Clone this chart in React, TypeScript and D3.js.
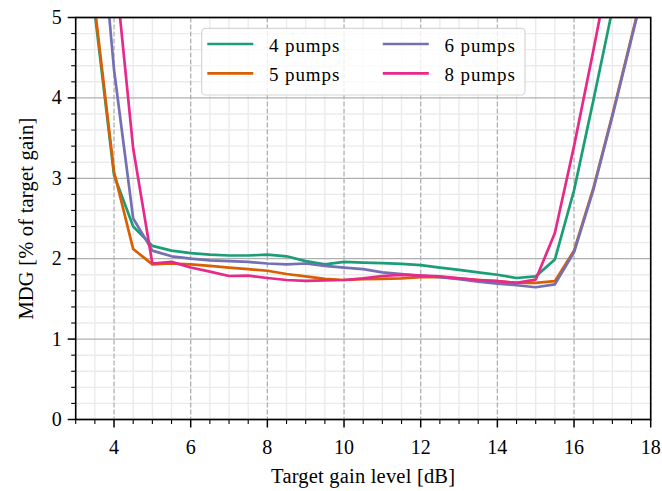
import React from "react";
import * as d3 from "d3";

const xValues = [3.5, 4, 4.5, 5, 5.5, 6, 6.5, 7, 7.5, 8, 8.5, 9, 9.5, 10, 10.5, 11, 11.5, 12, 12.5, 13, 13.5, 14, 14.5, 15, 15.5, 16, 16.5, 17, 17.5, 18];

const pumps4 = [5.05, 3.04, 2.40, 2.16, 2.10, 2.07, 2.05, 2.04, 2.04, 2.05, 2.03, 1.97, 1.93, 1.96, 1.95, 1.945, 1.935, 1.92, 1.89, 1.86, 1.83, 1.80, 1.76, 1.78, 1.99, 2.85, 3.96, 5.1, 6.2, 7.3];
const pumps5 = [5.12, 3.08, 2.12, 1.93, 1.94, 1.93, 1.91, 1.89, 1.87, 1.85, 1.81, 1.78, 1.75, 1.735, 1.745, 1.75, 1.755, 1.77, 1.77, 1.755, 1.735, 1.72, 1.70, 1.70, 1.72, 2.10, 2.87, 3.79, 4.76, 5.72];
const pumps6 = [7.0, 4.35, 2.5, 2.10, 2.03, 2.00, 1.98, 1.97, 1.96, 1.94, 1.93, 1.94, 1.91, 1.89, 1.87, 1.83, 1.81, 1.79, 1.77, 1.745, 1.715, 1.69, 1.67, 1.645, 1.68, 2.08, 2.85, 3.77, 4.74, 5.7];
const pumps8 = [9.0, 5.75, 3.37, 1.94, 1.96, 1.89, 1.84, 1.785, 1.79, 1.76, 1.735, 1.725, 1.73, 1.735, 1.755, 1.785, 1.80, 1.79, 1.78, 1.755, 1.735, 1.72, 1.70, 1.74, 2.32, 3.4, 4.58, 5.8, 7.0, 8.2];

const seriesNames = ["4 pumps", "5 pumps", "6 pumps", "8 pumps"];
const seriesValues = [pumps4, pumps5, pumps6, pumps8];
const seriesColors = ["#1b9e77", "#d95f02", "#7570b3", "#e7298a"];

const xMajorTicks = [4, 6, 8, 10, 12, 14, 16, 18];
const yMajorTicks = [0, 1, 2, 3, 4, 5];

const W = 662;
const H = 491;
const left = 75.7;
const right = 650.7;
const top = 17.5;
const bottom = 419.5;
const FONT = "'Liberation Serif', 'Times New Roman', serif";

export default function App() {
  const x = d3.scaleLinear().domain([3, 18]).range([left, right]);
  const y = d3.scaleLinear().domain([0, 5]).range([bottom, top]);

  const xMinor = d3.range(3, 18.001, 0.5).filter((v) => Math.abs(v % 2) > 1e-6);
  const yMinor = d3.range(0, 5.001, 0.2).filter((v) => Math.abs(v - Math.round(v)) > 1e-6);

  const line = d3
    .line<number>()
    .x((_, i) => x(xValues[i]))
    .y((d) => y(d));

  const legendRows = [
    { name: seriesNames[0], color: seriesColors[0], col: 0, row: 0 },
    { name: seriesNames[1], color: seriesColors[1], col: 0, row: 1 },
    { name: seriesNames[2], color: seriesColors[2], col: 1, row: 0 },
    { name: seriesNames[3], color: seriesColors[3], col: 1, row: 1 },
  ];
  const legX = 201.7;
  const legY = 28.3;
  const colOffsets = [0, 175.5];

  return (
    <svg
      width={W}
      height={H}
      style={{ position: "absolute", left: 0, top: 0, background: "#fff" }}
      fontFamily={FONT}
    >
      <defs>
        <clipPath id="plotClip">
          <rect x={left} y={top} width={right - left} height={bottom - top} />
        </clipPath>
      </defs>
      <rect x={0} y={0} width={W} height={H} fill="#fff" />
      {/* minor grid */}
      {xMinor.map((v) => (
        <line key={"xm" + v} x1={x(v)} x2={x(v)} y1={top} y2={bottom} stroke="#ebebeb" strokeWidth={1.4} />
      ))}
      {yMinor.map((v) => (
        <line key={"ym" + v} x1={left} x2={right} y1={y(v)} y2={y(v)} stroke="#ebebeb" strokeWidth={1.4} />
      ))}
      {/* major grid */}
      {xMajorTicks.map((v) => (
        <line
          key={"xg" + v}
          x1={x(v)}
          x2={x(v)}
          y1={top}
          y2={bottom}
          stroke="#b0b0b0"
          strokeWidth={1.3}
          strokeDasharray="5,2"
        />
      ))}
      {yMajorTicks.map((v) => (
        <line key={"yg" + v} x1={left} x2={right} y1={y(v)} y2={y(v)} stroke="#b0b0b0" strokeWidth={1.3} />
      ))}
      {/* series */}
      <g clipPath="url(#plotClip)">
        {seriesValues.map((vals, i) => (
          <path
            key={seriesNames[i]}
            d={line(vals) || ""}
            fill="none"
            stroke={seriesColors[i]}
            strokeWidth={2.7}
            strokeLinejoin="round"
          />
        ))}
      </g>
      {/* legend */}
      <rect
        x={legX}
        y={legY}
        width={323.3}
        height={66.7}
        rx={4}
        fill="#fff"
        fillOpacity={0.8}
        stroke="#d6d6d6"
        strokeWidth={1.2}
      />
      {legendRows.map((r) => {
        const lx = legX + 5.6 + colOffsets[r.col];
        const ly = 44 + r.row * 29.3;
        return (
          <g key={r.name}>
            <line x1={lx} x2={lx + 46} y1={ly} y2={ly} stroke={r.color} strokeWidth={2.7} />
            <text x={lx + 61.7} y={ly + 8} fontSize={19} letterSpacing={0.9} fill="#000">
              {r.name}
            </text>
          </g>
        );
      })}
      {/* spines */}
      <rect x={left} y={top} width={right - left} height={bottom - top} fill="none" stroke="#000" strokeWidth={1.6} />
      {/* x ticks */}
      {xMinor.map((v) => (
        <line key={"xt" + v} x1={x(v)} x2={x(v)} y1={bottom} y2={bottom + 4.5} stroke="#000" strokeWidth={1.1} />
      ))}
      {xMajorTicks.map((v) => (
        <g key={"xT" + v}>
          <line x1={x(v)} x2={x(v)} y1={bottom} y2={bottom + 8} stroke="#000" strokeWidth={1.5} />
          <text x={x(v)} y={bottom + 34} textAnchor="middle" fontSize={20} fill="#000">
            {v}
          </text>
        </g>
      ))}
      {/* y ticks */}
      {yMinor.map((v) => (
        <line key={"yt" + v} x1={left - 4.5} x2={left} y1={y(v)} y2={y(v)} stroke="#000" strokeWidth={1.1} />
      ))}
      {yMajorTicks.map((v) => (
        <g key={"yT" + v}>
          <line x1={left - 8} x2={left} y1={y(v)} y2={y(v)} stroke="#000" strokeWidth={1.5} />
          <text x={left - 14} y={y(v) + 6.5} textAnchor="end" fontSize={20} fill="#000">
            {v}
          </text>
        </g>
      ))}
      {/* axis labels */}
      <text x={(left + right) / 2} y={483} textAnchor="middle" fontSize={20.5} letterSpacing={0.2} fill="#000">
        Target gain level [dB]
      </text>
      <text
        transform={`translate(${33},${(top + bottom) / 2}) rotate(-90)`}
        textAnchor="middle"
        fontSize={20.5}
        letterSpacing={0.2}
        fill="#000"
      >
        MDG [% of target gain]
      </text>
    </svg>
  );
}
